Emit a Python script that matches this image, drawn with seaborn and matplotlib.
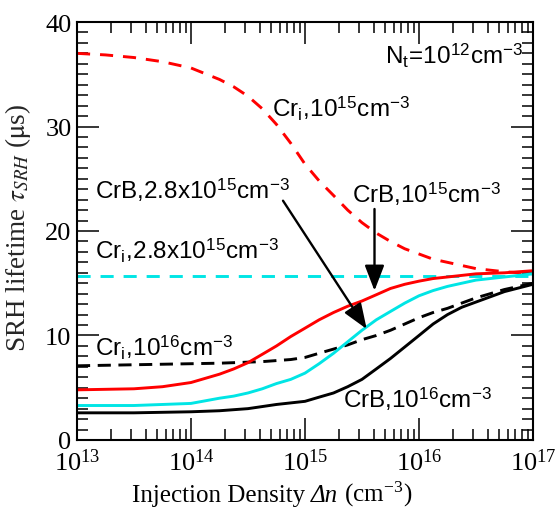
import numpy as np
import pandas as pd
import matplotlib
matplotlib.use("Agg")
import matplotlib.pyplot as plt
import seaborn as sns
from matplotlib.ticker import LogLocator, MultipleLocator

# ---- data ----
injection = [1e13, 1.78e13, 3.16e13, 5.62e13, 1e14, 1.78e14, 2.37e14, 3.16e14,
             4.22e14, 5.62e14, 7.5e14, 1e15, 1.33e15, 1.78e15, 2.37e15, 3.16e15,
             4.22e15, 5.62e15, 7.5e15, 1e16, 1.33e16, 1.78e16, 2.37e16, 3.16e16,
             5.62e16, 1e17]
cri_1e15 = [37.0, 36.85, 36.6, 36.2, 35.6, 34.5, 33.8, 32.9, 31.7, 30.2, 28.4, 26.4, 24.8,
            23.4, 22.0, 20.8, 19.8, 19.0, 18.3, 17.8, 17.3, 17.0, 16.7, 16.4, 16.1, 15.9]
crb_1e15 = [4.8, 4.85, 4.9, 5.1, 5.5, 6.3, 6.8, 7.4, 8.2, 9.0, 9.9, 10.7, 11.5, 12.2,
            12.8, 13.3, 13.9, 14.5, 14.9, 15.2, 15.45, 15.6, 15.75, 15.9, 16.0, 16.2]
crb_28e15 = [3.3, 3.3, 3.3, 3.4, 3.5, 4.0, 4.2, 4.5, 4.9, 5.4, 5.8, 6.4, 7.3, 8.3, 9.4,
             10.5, 11.5, 12.3, 13.1, 13.8, 14.3, 14.7, 15.0, 15.3, 15.6, 15.9]
cri_1e16 = [7.1, 7.15, 7.2, 7.25, 7.3, 7.35, 7.4, 7.45, 7.5, 7.6, 7.7, 7.9, 8.3, 8.7,
            9.1, 9.6, 10.0, 10.5, 11.1, 11.7, 12.2, 12.6, 13.1, 13.6, 14.4, 15.0]
crb_1e16 = [2.6, 2.6, 2.6, 2.65, 2.7, 2.8, 2.9, 3.0, 3.2, 3.4, 3.55, 3.7, 4.1, 4.5,
            5.1, 5.8, 6.8, 7.8, 8.9, 10.0, 11.1, 12.0, 12.7, 13.2, 14.2, 14.9]
cri_28e15 = [15.7] * len(injection)

sns.set_theme(style="ticks")
plt.rcParams["font.family"] = ["Liberation Serif", "DejaVu Serif"]
plt.rcParams["mathtext.fontset"] = "stix"

fig = plt.figure(figsize=(5.56, 5.10), dpi=100)
ax = fig.add_axes([0.1385, 0.1353, 0.8201, 0.8196])

RED = "#FF0000"
CYAN = "#00E5E5"
BLK = "#000000"
LW = 2.1

series = [
    (cri_1e15, RED, (4.5, 3.4)),
    (cri_28e15, CYAN, (4.5, 3.4)),
    (cri_1e16, BLK, (4.5, 2.6)),
    (crb_1e15, RED, None),
    (crb_28e15, CYAN, None),
    (crb_1e16, BLK, None),
]
for vals, col, dash in series:
    df = pd.DataFrame({"dn": injection, "tau": vals})
    sns.lineplot(data=df, x="dn", y="tau", ax=ax, color=col, lw=LW, legend=False)
    if dash is not None:
        ax.lines[-1].set_dashes(dash)

ax.set_xscale("log")
ax.set_xlim(1e13, 1e17)
ax.set_ylim(0, 40)
ax.yaxis.set_major_locator(MultipleLocator(10))
ax.yaxis.set_minor_locator(MultipleLocator(1))
ax.xaxis.set_major_locator(LogLocator(base=10))
ax.xaxis.set_minor_locator(LogLocator(base=10, subs=np.arange(2, 10)))

ax.tick_params(which="both", direction="in", top=True, right=True,
               labelsize=19, width=1.1, colors="black")
ax.tick_params(axis="x", which="major", length=16, pad=6)
ax.tick_params(axis="y", which="major", length=16, pad=4)
ax.tick_params(which="minor", length=8)
for s in ax.spines.values():
    s.set_linewidth(1.5)
    s.set_color("black")

ax.set_xlabel("")
ax.set_ylabel(r"SRH lifetime $\tau_{SRH}$ ($\mathrm{\mu}$s)", fontsize=19.5)
ax.yaxis.set_label_coords(-0.097, 0.51)

def fpos(xp, yp):
    return (xp / 556.0, (510.0 - yp) / 510.0)

# x label assembled from pieces so that "Δn" is italic
renderer = fig.canvas.get_renderer()
serif = ["Liberation Serif", "DejaVu Serif"]
pieces = [("Injection Density ", "normal"), ("\u0394n", "italic"),
          (r" (cm$^{\mathregular{-3}}$)", "normal")]
objs = []
for s, style in pieces:
    t = fig.text(0, 0, s, family=serif, fontsize=18, fontstyle=style,
                 ha="left", va="baseline", color="black")
    objs.append(t)
widths = [o.get_window_extent(renderer).width for o in objs]
total = sum(widths)
x0 = 272 - total / 2
for o, w in zip(objs, widths):
    o.set_position(fpos(x0, 502))
    x0 += w

sans = dict(family=["Liberation Sans", "DejaVu Sans"], fontsize=17.5, color="black")
texts = [
    (r"N$_\mathregular{t}$=10$^\mathregular{12}$cm$^\mathregular{-3}$", 385, 65),
    (r"Cr$_\mathregular{i}$,10$^\mathregular{15}$cm$^\mathregular{-3}$", 272, 118),
    (r"CrB,2.8x10$^\mathregular{15}$cm$^\mathregular{-3}$", 95, 199),
    (r"CrB,10$^\mathregular{15}$cm$^\mathregular{-3}$", 352, 203),
    (r"Cr$_\mathregular{i}$,2.8x10$^\mathregular{15}$cm$^\mathregular{-3}$", 95, 260),
    (r"Cr$_\mathregular{i}$,10$^\mathregular{16}$cm$^\mathregular{-3}$", 95, 357),
    (r"CrB,10$^\mathregular{16}$cm$^\mathregular{-3}$", 343, 408),
]
for t, xp, yp in texts:
    fig.text(*fpos(xp, yp), t, ha="left", va="baseline", **sans)

arrowprops = dict(arrowstyle="-|>,head_length=1.3,head_width=0.5", color="black",
                  lw=1.7, shrinkA=0, shrinkB=0, mutation_scale=12)
ax.annotate("", xy=fpos(366.7, 330), xycoords="figure fraction",
            xytext=fpos(283, 201.7), textcoords="figure fraction",
            arrowprops=arrowprops)
ax.annotate("", xy=fpos(374.5, 291.7), xycoords="figure fraction",
            xytext=fpos(374.5, 210), textcoords="figure fraction",
            arrowprops=arrowprops)

fig.savefig("out.png", dpi=100, facecolor="white")
